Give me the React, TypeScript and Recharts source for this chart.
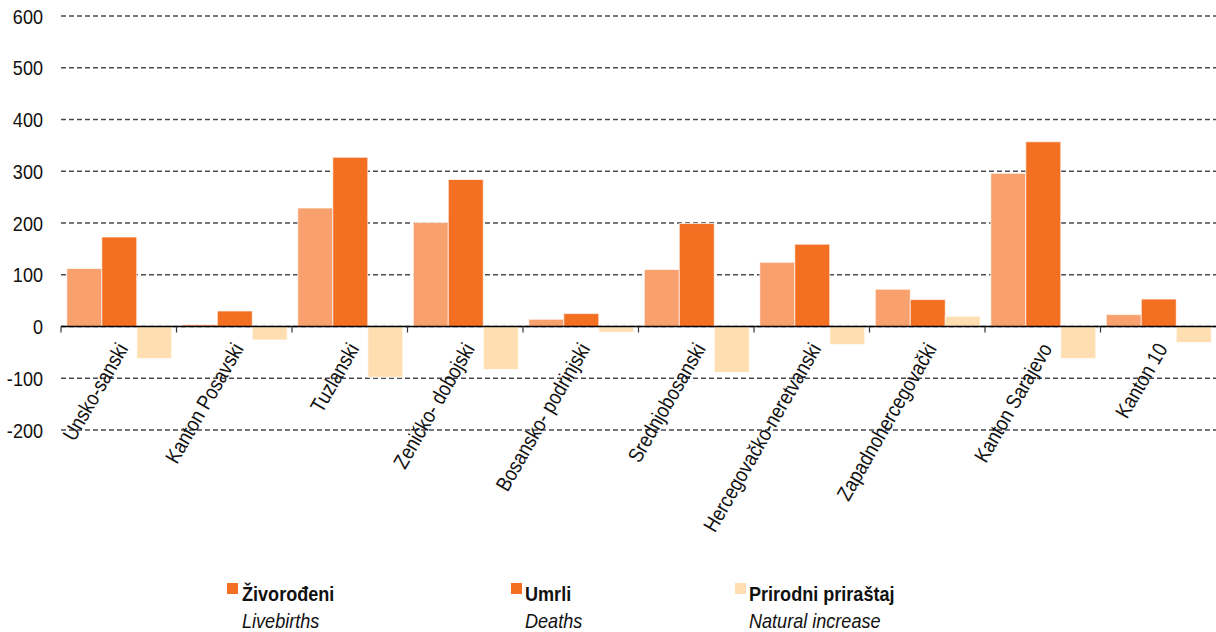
import { BarChart, Bar, XAxis, YAxis, CartesianGrid, ReferenceLine } from "recharts";

const categories = [
  "Unsko-sanski", "Kanton Posavski", "Tuzlanski", "Zeničko- dobojski", "Bosansko- podrinjski",
  "Srednjobosanski", "Hercegovačko-neretvanski", "Zapadnohercegovački", "Kanton Sarajevo", "Kanton 10",
];
const livebirths = [112, 4, 229, 201, 14, 110, 124, 72, 296, 23];
const deaths = [173, 30, 327, 284, 25, 199, 159, 52, 357, 53];
const naturalIncrease = [-62, -26, -98, -83, -11, -89, -35, 20, -62, -31];
const yTicks = [-200, -100, 0, 100, 200, 300, 400, 500, 600];

const data = categories.map((name, i) => ({
  name, live: livebirths[i], deaths: deaths[i], natural: naturalIncrease[i],
}));

const W = 1216;
const H = 632;
const TOP = 16;
const Y_AXIS_W = 61;
const X_AXIS_H = 202;
const PLOT_H = H - TOP - X_AXIS_H;
const PLOT_W = W - Y_AXIS_W;
const Y_MIN = yTicks[0];
const Y_MAX = yTicks[yTicks.length - 1];
const FONT = "'Liberation Sans', Arial, sans-serif";
const FS = 21;
const NARROW = 0.86; // no narrow face installed, so squeeze glyphs along the baseline

const LIVE = "#f8a06e";
const DEATH = "#f37023";
const NATURAL = "#ffdfb2";

// x axis sits at the zero line, not at the bottom of the plot
function CategoryTick(props: any) {
  const { x, payload } = props;
  const y0 = TOP + (PLOT_H * Y_MAX) / (Y_MAX - Y_MIN);
  const half = PLOT_W / categories.length / 2;
  return (
    <g>
      <line x1={x - half} x2={x - half} y1={y0} y2={y0 + 6} stroke="#333" strokeWidth={1.2} />
      <text
        transform={`translate(${x + 10},${y0 + 22}) rotate(-60) scale(${NARROW},1)`}
        textAnchor="end"
        fontFamily={FONT}
        fontSize={FS}
        fill="#111"
      >
        {payload.value}
      </text>
    </g>
  );
}

function ValueTick(props: any) {
  const { x, y, payload } = props;
  return (
    <text
      transform={`translate(${x},${y}) scale(${NARROW},1)`}
      textAnchor="end"
      dy="0.36em"
      fontFamily={FONT}
      fontSize={FS}
      fill="#111"
    >
      {payload.value}
    </text>
  );
}

const legendItems = [
  { title: "Živorođeni", sub: "Livebirths", color: DEATH, mx: 227, tx: 242 },
  { title: "Umrli", sub: "Deaths", color: DEATH, mx: 511, tx: 525 },
  { title: "Prirodni priraštaj", sub: "Natural increase", color: NATURAL, mx: 735, tx: 749 },
];

export default function App() {
  return (
    <div style={{ position: "absolute", left: 0, top: 0, width: W, height: H, background: "#fff" }}>
      <BarChart
        width={W}
        height={H}
        data={data}
        margin={{ top: TOP, right: 0, left: 0, bottom: 0 }}
        barCategoryGap="5%"
        barGap={0}
      >
        <CartesianGrid vertical={false} stroke="#4a4a55" strokeWidth={1.5} strokeDasharray="5 3" />
        <XAxis
          dataKey="name"
          height={X_AXIS_H}
          interval={0}
          axisLine={false}
          tickLine={false}
          tick={<CategoryTick />}
        />
        <YAxis
          width={Y_AXIS_W}
          domain={[Y_MIN, Y_MAX]}
          ticks={yTicks}
          axisLine={false}
          tickLine={false}
          tickMargin={12}
          tick={<ValueTick />}
        />
        <Bar dataKey="live" fill={LIVE} stroke="#fff" strokeOpacity={0.7} isAnimationActive={false} />
        <Bar dataKey="deaths" fill={DEATH} stroke="#fff" strokeOpacity={0.7} isAnimationActive={false} />
        <Bar dataKey="natural" fill={NATURAL} stroke="#fff" strokeOpacity={0.7} isAnimationActive={false} />
        <ReferenceLine y={0} stroke="#000" strokeWidth={1.5} />
      </BarChart>
      {legendItems.map((it) => (
        <div key={it.title}>
          <div style={{ position: "absolute", left: it.mx, top: 583, width: 11, height: 11, background: it.color }} />
          <div
            style={{
              position: "absolute", left: it.tx, top: 580, fontFamily: FONT, fontSize: FS,
              lineHeight: "27px", color: "#111", whiteSpace: "nowrap",
              transform: `scaleX(${NARROW})`, transformOrigin: "0 0",
            }}
          >
            <div style={{ fontWeight: 700 }}>{it.title}</div>
            <div style={{ fontStyle: "italic" }}>{it.sub}</div>
          </div>
        </div>
      ))}
    </div>
  );
}
